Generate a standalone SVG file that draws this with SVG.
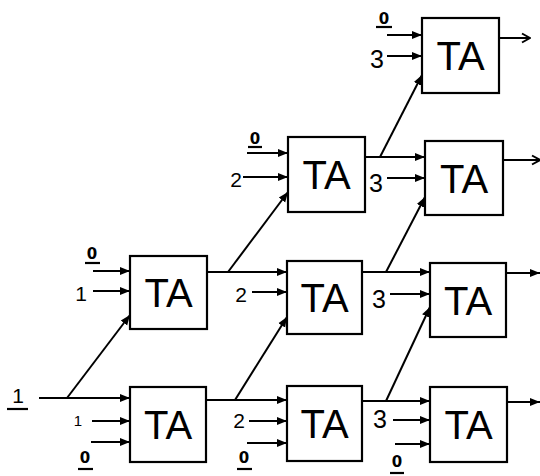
<svg xmlns="http://www.w3.org/2000/svg" width="540" height="476" viewBox="0 0 540 476">
<style>
.box{fill:#fff;stroke:#000;stroke-width:2.2}
.ta{font-family:"Liberation Sans",Arial,sans-serif;font-size:40px;text-anchor:middle;fill:#000}
.lbl{font-family:"Liberation Sans",Arial,sans-serif;font-size:21px;text-anchor:middle;fill:#000}
.three{font-size:25px}
.zero{font-family:"DejaVu Sans",sans-serif;font-size:15px;font-weight:bold;text-anchor:middle;fill:#000}
.ul{stroke:#000;stroke-width:2.2}
.c{stroke:#000;stroke-width:2;fill:none}
.a{marker-end:url(#fa)}
.o{marker-end:url(#oa)}
</style>
<defs>
<marker id="fa" markerUnits="userSpaceOnUse" markerWidth="10" markerHeight="10" viewBox="0 0 10 10" refX="10" refY="5" orient="auto"><path d="M0,1 L10,5 L0,9 Z" fill="#000"/></marker>
<marker id="oa" markerUnits="userSpaceOnUse" markerWidth="12" markerHeight="12" viewBox="0 0 12 12" refX="11" refY="6" orient="auto"><path d="M3,1.5 L11,6 L3,10.5" fill="none" stroke="#000" stroke-width="2"/></marker>
</defs>

<g id="connectors">
<line class="c a" x1="39" y1="398" x2="130" y2="398"/>
<line class="c a" x1="67" y1="398" x2="130" y2="315"/>
<line class="c a" x1="93" y1="271" x2="130" y2="271"/>
<line class="c a" x1="93" y1="291" x2="130" y2="291"/>
<line class="c a" x1="92" y1="421" x2="130" y2="421"/>
<line class="c a" x1="91" y1="442" x2="130" y2="442"/>
<line class="c a" x1="207" y1="272" x2="287" y2="272"/>
<line class="c a" x1="228" y1="272" x2="288" y2="192"/>
<line class="c a" x1="206" y1="400" x2="287" y2="400"/>
<line class="c a" x1="235" y1="400" x2="287" y2="317"/>
<line class="c a" x1="252" y1="292" x2="287" y2="292"/>
<line class="c a" x1="249" y1="421" x2="287" y2="421"/>
<line class="c a" x1="247" y1="443" x2="287" y2="443"/>
<line class="c a" x1="247" y1="153" x2="288" y2="153"/>
<line class="c a" x1="243" y1="177" x2="288" y2="177"/>
<line class="c a" x1="365" y1="157" x2="425" y2="157"/>
<line class="c a" x1="380" y1="157" x2="422" y2="75"/>
<line class="c a" x1="387" y1="178" x2="425" y2="178"/>
<line class="c a" x1="362" y1="272" x2="430" y2="272"/>
<line class="c a" x1="386" y1="272" x2="425" y2="197"/>
<line class="c a" x1="390" y1="294" x2="430" y2="294"/>
<line class="c a" x1="362" y1="401" x2="430" y2="401"/>
<line class="c a" x1="386" y1="401" x2="430" y2="307"/>
<line class="c a" x1="393" y1="420" x2="430" y2="420"/>
<line class="c a" x1="395" y1="444" x2="430" y2="444"/>
<line class="c a" x1="387" y1="35" x2="422" y2="35"/>
<line class="c a" x1="387" y1="56" x2="422" y2="56"/>
<line class="c o" x1="499" y1="38" x2="530" y2="38"/>
<line class="c o" x1="503" y1="160" x2="540" y2="160"/>
<line class="c a" x1="506" y1="273" x2="540" y2="273"/>
<line class="c a" x1="507" y1="402" x2="540" y2="402"/>
</g>

<g id="labels">
<text class="lbl" x="18" y="403">1</text><line class="ul" x1="7" y1="409" x2="28" y2="409"/>
<text class="zero" x="92" y="259">0</text><line class="ul" x1="85" y1="263" x2="100" y2="263"/>
<text class="lbl" x="81" y="301">1</text>
<text class="lbl" x="78" y="426" style="font-size:15px">1</text>
<text class="zero" x="85" y="463">0</text><line class="ul" x1="78" y1="469" x2="93" y2="469"/>
<text class="lbl" x="241" y="302">2</text>
<text class="lbl" x="239" y="428">2</text>
<text class="zero" x="244" y="463">0</text><line class="ul" x1="237" y1="469" x2="252" y2="469"/>
<text class="zero" x="255" y="144">0</text><line class="ul" x1="248" y1="147" x2="262" y2="147"/>
<text class="lbl" x="236" y="187">2</text>
<text class="lbl three" x="376" y="192">3</text>
<text class="lbl three" x="379" y="308">3</text>
<text class="lbl three" x="380" y="428">3</text>
<text class="zero" x="397" y="467">0</text><line class="ul" x1="390" y1="473" x2="404" y2="473"/>
<text class="zero" x="384" y="24">0</text><line class="ul" x1="376" y1="27" x2="392" y2="27"/>
<text class="lbl three" x="377" y="68">3</text>
</g>

<g id="A"><rect class="box" x="130" y="256" width="77" height="73"/><text class="ta" x="168.5" y="307">TA</text></g>
<g id="B"><rect class="box" x="130" y="387" width="76" height="75"/><text class="ta" x="168" y="439">TA</text></g>
<g id="C"><rect class="box" x="287" y="261" width="75" height="73"/><text class="ta" x="324.5" y="312">TA</text></g>
<g id="D"><rect class="box" x="287" y="386" width="75" height="75"/><text class="ta" x="324.5" y="438">TA</text></g>
<g id="E"><rect class="box" x="430" y="263" width="76" height="74"/><text class="ta" x="468" y="315">TA</text></g>
<g id="F"><rect class="box" x="430" y="387" width="77" height="75"/><text class="ta" x="468.5" y="439">TA</text></g>
<g id="G"><rect class="box" x="422" y="18" width="77" height="75"/><text class="ta" x="460.5" y="70">TA</text></g>
<g id="H"><rect class="box" x="288" y="137" width="77" height="75"/><text class="ta" x="326.5" y="189">TA</text></g>
<g id="I"><rect class="box" x="425" y="141" width="78" height="74"/><text class="ta" x="464" y="193">TA</text></g>
</svg>
